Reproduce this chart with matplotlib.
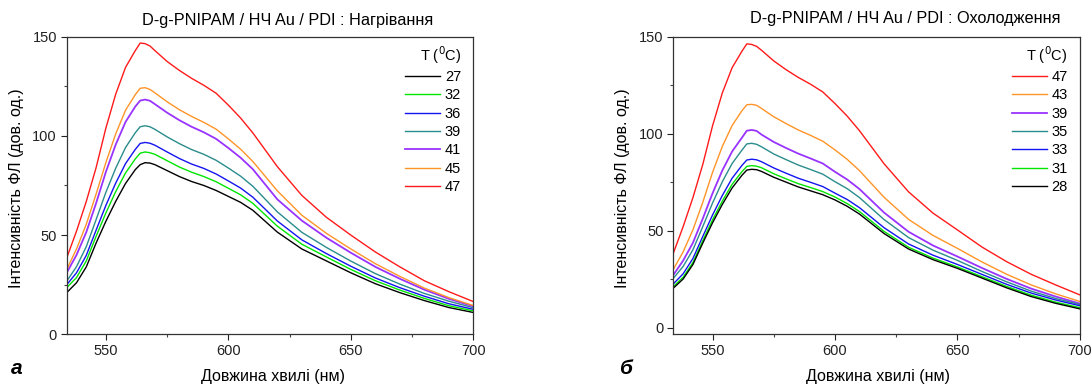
import numpy as np
import matplotlib
matplotlib.use("Agg")
import matplotlib.pyplot as plt
from matplotlib.ticker import MultipleLocator

plt.rcParams["font.family"] = ["Liberation Sans", "DejaVu Sans"]

# wavelength grid (nm)
wl = [534, 538, 542, 546, 550, 554, 558, 562, 564, 566, 568, 570, 575, 580, 585, 590,
      595, 600, 605, 610, 620, 630, 640, 650, 660, 670, 680, 690, 700]

# --- panel a: heating ---
heat_temps = ["27", "32", "36", "39", "41", "45", "47"]
heat_27 = [21, 26, 34, 46, 57, 67, 76, 83, 85.5, 86.5, 86.3, 85.5, 82.5, 79.5, 77, 75,
           72.5, 69.5, 66.5, 62.5, 51.5, 43, 37, 31, 25.5, 21, 17, 13.5, 11]
heat_32 = [23.5, 28.6, 37, 49.4, 61.2, 71.9, 81.3, 88.4, 91.3, 91.9, 91.5, 90.7, 87.5, 84.3, 81.7, 79.5,
           76.9, 73.6, 70.3, 66, 54.5, 45.4, 39, 32.7, 27, 22.3, 18.1, 14.4, 11.8]
heat_36 = [25, 31, 39.8, 52.5, 65, 76.2, 86, 93.2, 96.2, 96.7, 96.3, 95.3, 91.9, 88.6, 85.8, 83.6,
           80.8, 77.3, 73.7, 69.1, 57.1, 47.6, 40.7, 34.3, 28.4, 23.5, 19.2, 15.4, 12.6]
heat_39 = [26.8, 34.1, 44.2, 57.8, 71.6, 83.7, 94.1, 101.6, 104.6, 105.1, 104.6, 103.3, 99.5, 96.1, 93.1, 90.7,
           87.7, 83.8, 79.7, 74.6, 61.7, 51.4, 43.8, 36.9, 30.6, 25.3, 20.6, 16.7, 13.4]
heat_41 = [31, 40, 51.5, 66.1, 81.9, 95.6, 107, 114.8, 117.8, 118.3, 117.7, 116, 111.7, 107.9, 104.6, 101.8,
           98.5, 93.9, 89, 83.2, 68, 57.3, 48.7, 41.1, 34, 28, 22.5, 17.9, 14.1]
heat_45 = [32.7, 43, 55.5, 70.7, 86.6, 101, 112.9, 120.8, 124, 124.3, 123.4, 121.7, 117.2, 113.2, 109.8, 106.8,
           103.4, 98.5, 93.3, 87.1, 72.3, 60, 50.9, 43, 35.6, 29.2, 23.3, 18.5, 14.5]
heat_47 = [38.5, 52, 67, 84, 104, 121, 134.5, 143, 146.8, 146.5, 145.3, 143, 137.5, 133, 129, 125.5,
           121.5, 115.5, 109, 101.5, 84.5, 70, 59, 50, 41.5, 34, 27, 21.5, 16.5]

# --- panel b: cooling ---
cool_temps = ["47", "43", "39", "35", "33", "31", "28"]
cool_47 = [38.3, 52, 67, 84, 104, 121, 134, 142.5, 146.3, 146, 145, 143, 137.5, 133, 129, 125.5,
           121.5, 115.5, 109, 101.5, 84.5, 70, 59, 50.3, 41.5, 34, 27.5, 22, 16.8]
cool_43 = [30, 39, 50.4, 64.5, 80, 93.4, 104.2, 111.8, 114.9, 115.1, 114.6, 113, 108.7, 105.2, 101.9, 99.1,
           96.1, 91.6, 86.7, 80.9, 67.2, 55.8, 47.5, 40.8, 33.8, 27.5, 22, 17.4, 13.4]
cool_39 = [27.1, 34.5, 43.7, 56.1, 69.2, 81, 90.8, 97.9, 101.5, 101.9, 101.4, 99.5, 95.7, 92.6, 89.7, 87.2,
           84.6, 80.3, 76.3, 71.4, 59.3, 49.4, 42.3, 36.6, 30.7, 25.1, 20.1, 16, 12.3]
cool_35 = [25.4, 31.5, 40.1, 52, 64.2, 75.2, 84.6, 91.5, 94.7, 95, 94.5, 93.2, 89.5, 86.6, 83.8, 81.5,
           79.1, 75.2, 71.6, 67, 55.7, 46.4, 39.9, 34.6, 28.9, 23.6, 18.8, 15, 11.8]
cool_33 = [22.5, 27.7, 35.6, 46.9, 58, 68.1, 77, 83.6, 86.4, 86.8, 86.5, 85.5, 82.3, 79.6, 77, 74.9,
           72.7, 69.3, 66, 61.8, 51.5, 43.1, 37.3, 32.5, 27.4, 22.3, 17.8, 14.2, 11.2]
cool_31 = [21.1, 25.9, 33.5, 44.7, 55.5, 65.2, 73.9, 80.4, 83.1, 83.5, 83.2, 82.4, 79.3, 76.7, 74.2, 72.2,
           70.1, 67.3, 63.9, 59.8, 49.6, 41.4, 35.8, 31.2, 26.2, 21.2, 16.7, 13.1, 10.2]
cool_28 = [20.3, 25, 32.5, 43.5, 54, 63.5, 72, 78.5, 81.2, 81.6, 81.4, 80.5, 77.5, 75, 72.5, 70.5,
           68.5, 65.8, 62.5, 58.5, 48.5, 40.5, 35, 30.5, 25.5, 20.5, 16, 12.5, 9.6]

BLACK, GREEN, BLUE, TEAL = "#000000", "#00e600", "#1414f0", "#2a8c8c"
PURPLE, ORANGE, RED = "#9933ff", "#ff9428", "#ff1a1a"
heat_colors = [BLACK, GREEN, BLUE, TEAL, PURPLE, ORANGE, RED]
cool_colors = [RED, ORANGE, PURPLE, TEAL, BLUE, GREEN, BLACK]


def style_axes(ax, ylim):
    ax.set_xlim(534, 700)
    ax.set_ylim(*ylim)
    ax.xaxis.set_major_locator(MultipleLocator(50))
    ax.xaxis.set_minor_locator(MultipleLocator(25))
    ax.yaxis.set_major_locator(MultipleLocator(50))
    ax.yaxis.set_minor_locator(MultipleLocator(25))
    ax.tick_params(which="major", direction="out", length=4, width=0.8,
                   labelsize=10.5, pad=3, colors="#222222")
    ax.tick_params(which="minor", direction="out", length=2.5, width=0.8, colors="#444444")
    for sp in ax.spines.values():
        sp.set_linewidth(0.9)
        sp.set_color("#333333")


def draw_panel(ax, curves, temps, colors, ylim):
    for y, t, c in zip(curves, temps, colors):
        lw = 1.3 if c == PURPLE else 1.0
        ax.plot(wl, y, color=c, lw=lw, label=t)
    style_axes(ax, ylim)
    leg = ax.legend(title=r"T ($^0$C)", loc="upper right", bbox_to_anchor=(0.995, 1.01),
                    frameon=False, fontsize=10.5, title_fontsize=10.5,
                    handlelength=2.4, handletextpad=0.3, labelspacing=0.3,
                    borderpad=0.2, alignment="right")
    return leg


fig = plt.figure(figsize=(10.92, 3.85), dpi=100)
ax1 = fig.add_axes([0.0611, 0.1317, 0.3723, 0.773])
ax2 = fig.add_axes([0.6166, 0.1317, 0.3724, 0.773])

draw_panel(ax1, [heat_27, heat_32, heat_36, heat_39, heat_41, heat_45, heat_47],
           heat_temps, heat_colors, (0, 150))
draw_panel(ax2, [cool_47, cool_43, cool_39, cool_35, cool_33, cool_31, cool_28],
           cool_temps, cool_colors, (-3.5, 150))

fs = 11.5
fig.text(288 / 1092, 1 - 20 / 385, "D-g-PNIPAM / НЧ Au / PDI : Нагрівання",
         ha="center", va="center", fontsize=11.7)
fig.text(905 / 1092, 1 - 18 / 385, "D-g-PNIPAM / НЧ Au / PDI : Охолодження",
         ha="center", va="center", fontsize=11.7)

for xc in (273, 878):
    fig.text(xc / 1092, 1 - 376 / 385, "Довжина хвилі (нм)",
             ha="center", va="center", fontsize=fs)
for xc in (17, 622):
    fig.text(xc / 1092, 1 - 188 / 385, "Інтенсивність ФЛ (дов. од.)",
             ha="center", va="center", rotation=90, fontsize=fs)

fig.text(17 / 1092, 1 - 369 / 385, "а", ha="center", va="center",
         fontsize=15, fontweight="bold", fontstyle="italic")
fig.text(625 / 1092, 1 - 369 / 385, "б", ha="center", va="center",
         fontsize=15, fontweight="bold", fontstyle="italic")

fig.savefig("out.png", dpi=100)
